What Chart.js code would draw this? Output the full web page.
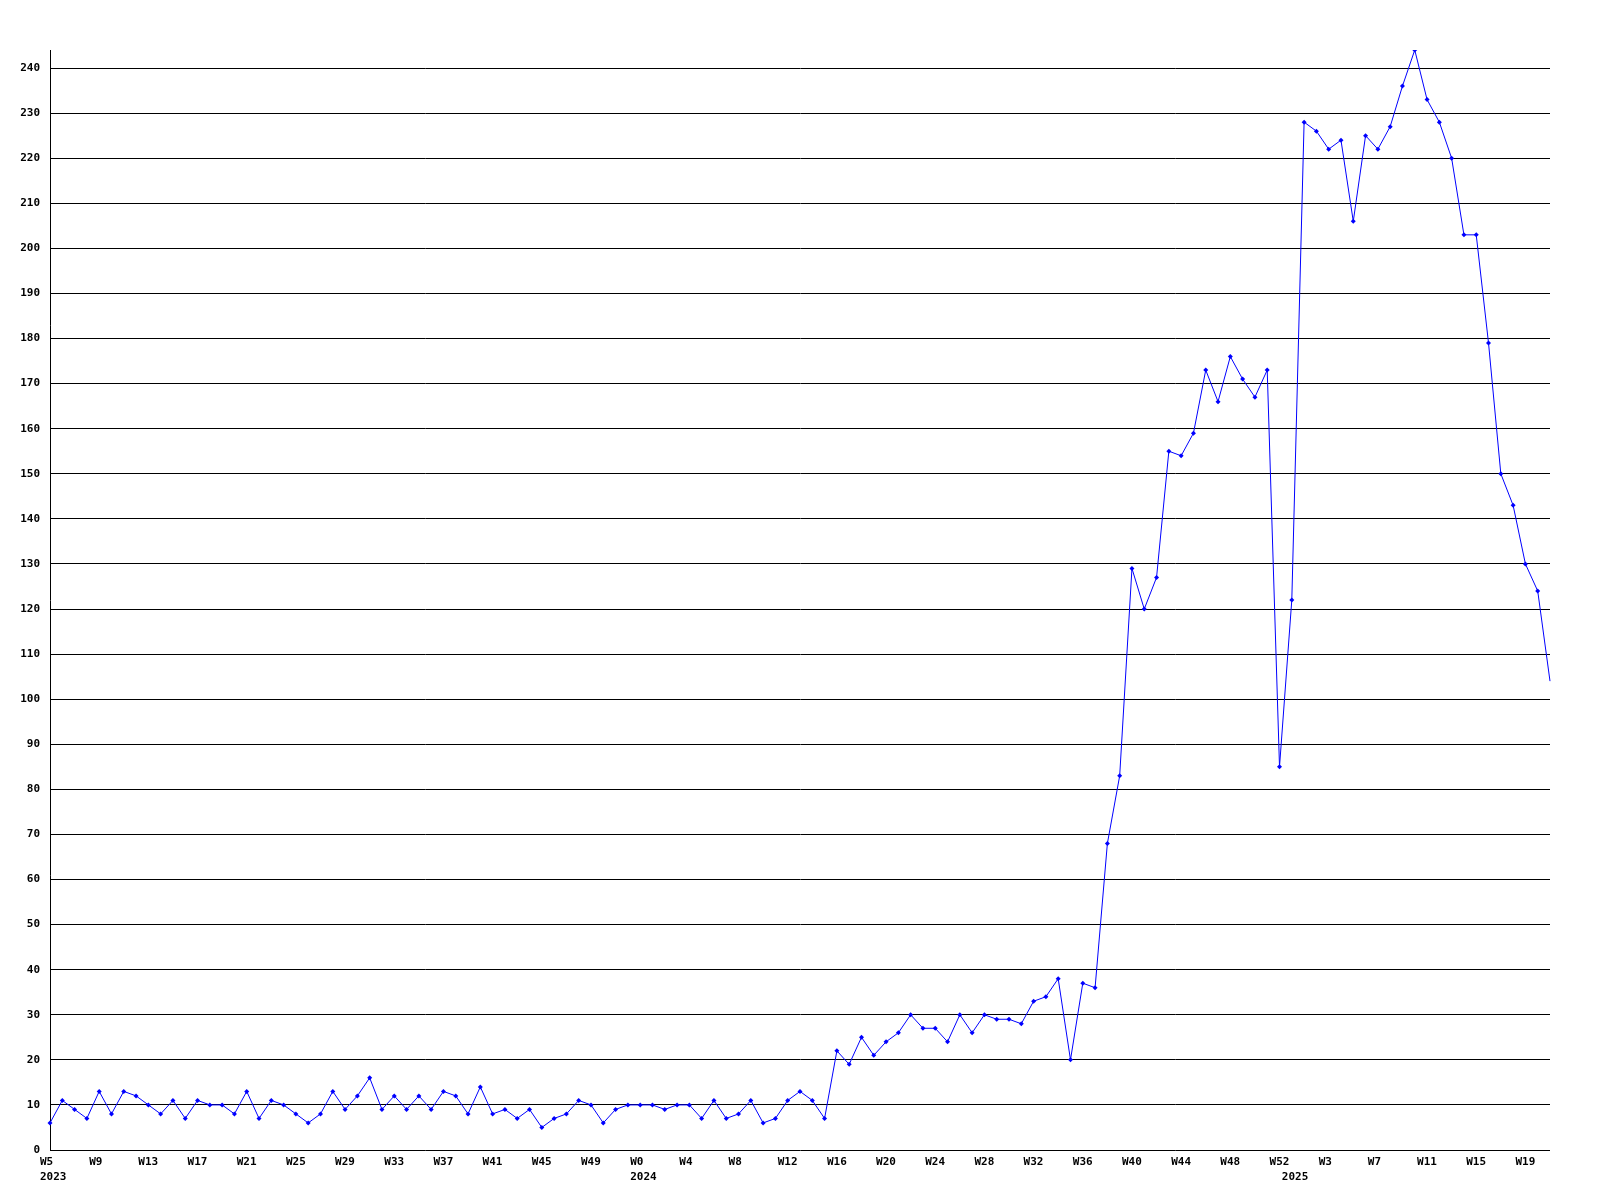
<!DOCTYPE html>
<html>
<head>
<meta charset="utf-8">
<script src="https://cdn.jsdelivr.net/npm/chart.js@4/dist/chart.umd.min.js"></script>
<style>
  html, body { margin: 0; padding: 0; background: #ffffff; }
  #wrap { width: 1600px; height: 1200px; }
</style>
</head>
<body>
<div id="wrap"><canvas id="c" width="1600" height="1200"></canvas></div>
<script>
// ---- data ----
const weeks2023 = [5,6,7,8,9,10,11,12,13,14,15,16,17,18,19,20,21,22,23,24,25,26,27,28,29,30,31,32,33,34,35,36,37,38,39,40,41,42,43,44,45,46,47,48,49,50,51,52];
const values2023 = [6,11,9,7,13,8,13,12,10,8,11,7,11,10,10,8,13,7,11,10,8,6,8,13,9,12,16,9,12,9,12,9,13,12,8,14,8,9,7,9,5,7,8,11,10,6,9,10];

const weeks2024 = [0,1,2,3,4,5,6,7,8,9,10,11,12,13,14,15,16,17,18,19,20,21,22,23,24,25,26,27,28,29,30,31,32,33,34,35,36,37,38,39,40,41,42,43,44,45,46,47,48,49,50,51,52];
const values2024 = [10,10,9,10,10,7,11,7,8,11,6,7,11,13,11,7,22,19,25,21,24,26,30,27,27,24,30,26,30,29,29,28,33,34,38,20,37,36,68,83,129,120,127,155,154,159,173,166,176,171,167,173,85];

const weeks2025 = [0,1,2,3,4,5,6,7,8,9,10,11,12,13,14,15,16,17,18,19,20,21];
const values2025 = [122,228,226,222,224,206,225,222,227,236,244,233,228,220,203,203,179,150,143,130,124,104];

const yearNames = ["2023", "2024", "2025"];
const yTickStep = 10;
const yMax = 244;

// ---- build categories ----
const categories = [];
const yearOfIndex = [];
[[weeks2023, 0], [weeks2024, 1], [weeks2025, 2]].forEach(([wk, y]) => {
  wk.forEach(w => { categories.push("W" + w); yearOfIndex.push(yearNames[y]); });
});
const values = values2023.concat(values2024, values2025);

const FONT = { family: "'DejaVu Sans Mono', 'Liberation Mono', monospace", size: 11, weight: 'bold', lineHeight: 1.35 };

new Chart(document.getElementById('c'), {
  type: 'line',
  data: {
    labels: categories,
    datasets: [{
      data: values,
      borderColor: '#0000ff',
      backgroundColor: '#0000ff',
      borderWidth: 1,
      tension: 0,
      pointStyle: 'rectRot',
      pointRadius: (ctx) => (ctx.dataIndex === values.length - 1 ? 0 : 2.5),
      pointBorderWidth: 0,
      pointBackgroundColor: '#0000ff',
      fill: false
    }]
  },
  options: {
    responsive: false,
    animation: false,
    devicePixelRatio: 1,
    layout: { padding: { top: 50, right: 50, left: 0, bottom: 0 } },
    plugins: { legend: { display: false }, tooltip: { enabled: false } },
    scales: {
      x: {
        type: 'category',
        offset: false,
        grid: { display: false },
        border: { display: false },
        afterFit: (s) => { s.height = 50; },
        ticks: {
          autoSkip: false,
          maxRotation: 0,
          minRotation: 0,
          align: 'start',
          labelOffset: -10,
          padding: -3,
          color: '#000000',
          font: FONT,
          callback: function (value, index) {
            const firstOfYear = index === 0 || yearOfIndex[index] !== yearOfIndex[index - 1];
            const showWeek = index % 4 === 0;
            if (!showWeek && !firstOfYear) return null;
            return [showWeek ? categories[index] : "", firstOfYear ? yearOfIndex[index] : ""];
          }
        }
      },
      y: {
        min: 0,
        max: yMax,
        afterFit: (s) => { s.width = 50; },
        grid: { color: '#000000', lineWidth: 1, drawTicks: false },
        border: { display: true, color: '#000000', width: 1 },
        ticks: {
          stepSize: yTickStep,
          includeBounds: false,
          padding: 10,
          color: '#000000',
          font: FONT
        }
      }
    }
  }
});
</script>
</body>
</html>
